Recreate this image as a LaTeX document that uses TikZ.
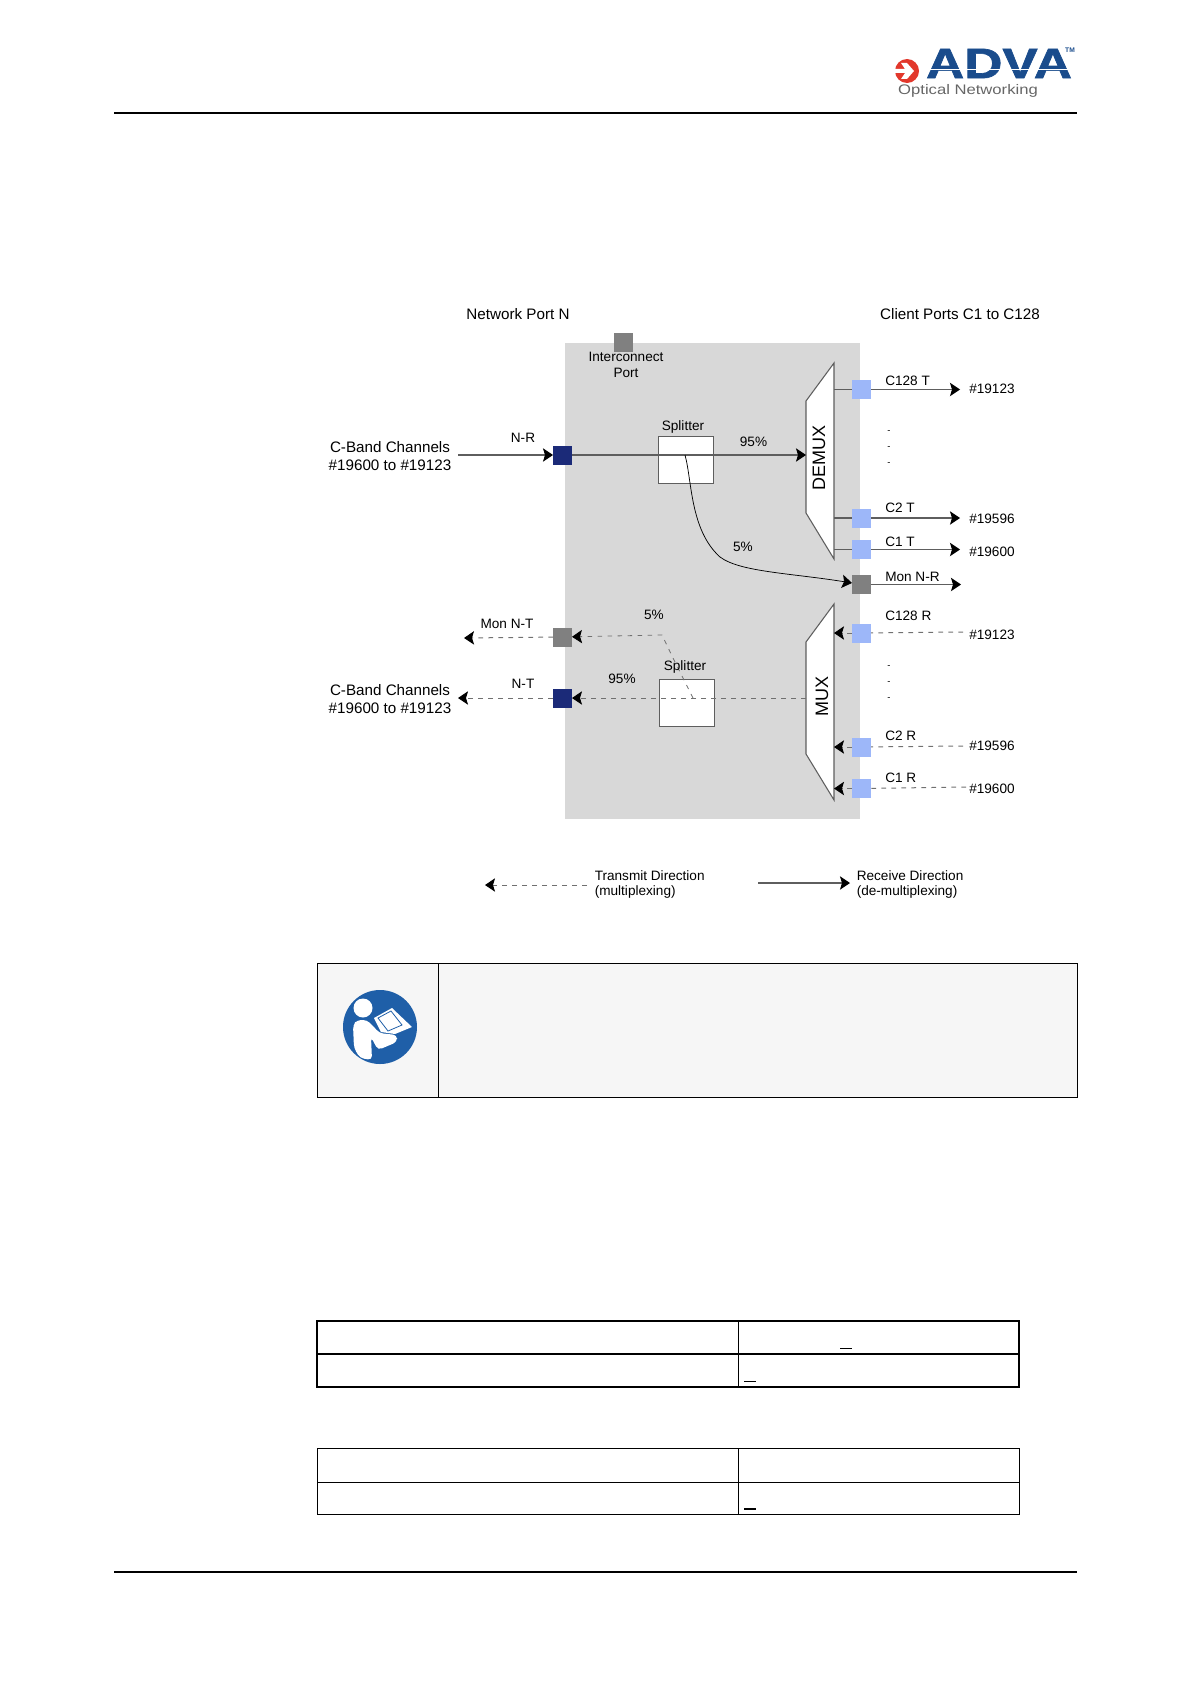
\documentclass[tikz,border=0pt]{standalone}
\usepackage{fontspec}
\setmainfont{Liberation Sans}
\newfontface\logofont{Liberation Sans Bold}[FakeBold=1.5]
\usetikzlibrary{arrows.meta}
\definecolor{panelgray}{HTML}{D8D8D8}
\definecolor{portnavy}{HTML}{1B2A78}
\definecolor{portblue}{HTML}{9DB7F9}
\definecolor{portgray}{HTML}{808080}
\definecolor{wire}{HTML}{5E5E5E}
\definecolor{wiredash}{HTML}{707070}
\definecolor{notefill}{HTML}{F6F6F6}
\definecolor{advablue}{HTML}{1A4C8C}
\definecolor{advared}{HTML}{E2382C}
\definecolor{signblue}{HTML}{1F5FA8}
\tikzset{
  port/.style={minimum size=14.25pt,inner sep=0pt,outer sep=0pt},
  netport/.style={port,fill=portnavy},
  clientport/.style={port,fill=portblue},
  monport/.style={port,fill=portgray},
  splitbox/.style={draw=wire,fill=white,line width=0.75pt,minimum width=41.25pt,minimum height=35.25pt,inner sep=0pt,outer sep=0pt},
  muxshape/.style={draw=wire,fill=white,line width=0.8pt},
  wirerx/.style={draw=wire,line width=0.85pt},
  wiretx/.style={draw=wiredash,line width=0.75pt,dash pattern={on 3.4pt off 4.1pt}},
  tipped/.style={-{Stealth[length=7.5pt,width=10pt,inset=1.5pt,color=black]}},
  bigtext/.style={inner sep=0pt,font=\fontsize{11.4}{13.5}\selectfont,align=center},
  smalltext/.style={inner sep=0pt,font=\fontsize{10.2}{11.8}\selectfont,align=center},
  lefttext/.style={inner sep=0pt,font=\fontsize{10.2}{11.8}\selectfont,align=left,anchor=west},
  rule/.style={line width=1.4pt,black},
  grid/.style={line width=0.6pt,black},
  gridthick/.style={line width=1pt,black}
}
\begin{document}
\begin{tikzpicture}[x=0.75pt,y=0.75pt,yscale=-1,xscale=1]
\useasboundingbox (0,0) rectangle (1191,1684);

%Header and footer
\draw [rule] (114,113) -- (1077,113);
\draw [rule] (114,1572) -- (1077,1572);
%Logo
\fill [advared] (907,71) circle [radius=12];
\fill [white] (895,69) -- (905,69) -- (901,63) -- (907,63) -- (914,71) -- (907,79) -- (901,79) -- (905,73) -- (895,73) -- cycle;
\draw (999,63.5) node [inner sep=0pt,text=advablue] (logoname) {\scalebox{1.24}[1]{\fontsize{32}{32}\logofont ADVA}};
\fill [white] (925,69) rectangle (1075,70.2);
\draw (1070,50) node [inner sep=0pt,text=advablue] (logotm) {\fontsize{5}{5}\selectfont\bfseries TM};
\draw (968,91) node [inner sep=0pt,text=black!60] (logosub) {\scalebox{1.2}[1]{\fontsize{10.4}{12}\selectfont Optical Networking}};

%Panel
\fill [panelgray] (565,343) rectangle (860,819);

%DEMUX
\draw [muxshape] (834,363) -- (806,401) -- (806,513) -- (834,559) -- cycle;
%MUX
\draw [muxshape] (834,604) -- (806,642) -- (806,754) -- (834,800) -- cycle;
\coordinate (demuxin) at (806,455);
\coordinate (demuxc128) at (834,389.5);
\coordinate (demuxc2) at (834,518);
\coordinate (demuxc1) at (834,549.5);
\coordinate (muxout) at (806,698);
\coordinate (muxc128) at (834,633);
\coordinate (muxc2) at (834,747);
\coordinate (muxc1) at (834,788.5);

%Splitters
\draw (685.5,459.5) node [splitbox] (splitrx) {};
\draw (686.5,702.5) node [splitbox] (splittx) {};

%Ports
\draw (623.5,342) node [monport] (interport) {};
\draw (562.5,455) node [netport] (nr) {};
\draw (562.5,698) node [netport] (nt) {};
\draw (562.5,637) node [monport] (monnt) {};
\draw (861.5,584.5) node [monport] (monnr) {};
\draw (861.5,389.5) node [clientport] (c128t) {};
\draw (861.5,518) node [clientport] (c2t) {};
\draw (861.5,549.5) node [clientport] (c1t) {};
\draw (861.5,633) node [clientport] (c128r) {};
\draw (861.5,747) node [clientport] (c2r) {};
\draw (861.5,788.5) node [clientport] (c1r) {};

%Free ends
\coordinate (nrin) at (458,455);
\coordinate (ntout) at (458,698);
\coordinate (monntout) at (464,638);
\coordinate (monnrout) at (961,584.5);
\coordinate (c128tout) at (960,389.5);
\coordinate (c2tout) at (960,518);
\coordinate (c1tout) at (960,549.5);
\coordinate (c128rin) at (963,632);
\coordinate (c2rin) at (963,746);
\coordinate (c1rin) at (966,787);
\coordinate (legtxa) at (587,885);
\coordinate (legtxb) at (485,885);
\coordinate (legrxa) at (758,883);
\coordinate (legrxb) at (850,883);
\coordinate (taprx) at (685,455);
\coordinate (taptx) at (693,698);

%Receive direction
\draw [wirerx,tipped] (nrin) -- (nr);
\draw [wirerx,tipped] (nr) -- (demuxin);
\draw [wirerx] (demuxc128) -- (c128t);
\draw [wirerx,tipped] (c128t) -- (c128tout);
\draw [wirerx] (demuxc2) -- (c2t);
\draw [wirerx,tipped] (c2t) -- (c2tout);
\draw [wirerx] (demuxc1) -- (c1t);
\draw [wirerx,tipped] (c1t) -- (c1tout);
\draw [wirerx,tipped] (monnr) -- (monnrout);
\draw [draw=black,line width=0.55pt,tipped] (taprx) .. controls (692,480) and (690,530) .. (720,557) .. controls (740,572) and (790,573) .. (monnr);

%Transmit direction
\draw [wiretx,tipped] (muxout) -- (nt);
\draw [wiretx,tipped] (nt) -- (ntout);
\draw [wiretx,tipped] (monnt) -- (monntout);
\draw [wiretx,line width=0.6pt,tipped] (taptx) -- (673,658) -- (662,635) -- (monnt);
\draw [wiretx] (c128rin) -- (c128r);
\draw [wiretx,tipped] (c128r) -- (muxc128);
\draw [wiretx] (c2rin) -- (c2r);
\draw [wiretx,tipped] (c2r) -- (muxc2);
\draw [wiretx] (c1rin) -- (c1r);
\draw [wiretx,tipped] (c1r) -- (muxc1);

%Legend
\draw [wiretx,line width=0.7pt,tipped] (legtxa) -- (legtxb);
\draw [wirerx,tipped] (legrxa) -- (legrxb);

% Text Node
\draw (518,314) node [bigtext] (titlenet) {Network Port N};
% Text Node
\draw (960,314) node [bigtext] (titleclient) {Client Ports C1 to C128};
% Text Node
\draw (626,365) node [smalltext] (interlabel) {Interconnect\\Port};
% Text Node
\draw (390,456) node [bigtext] (bandin) {C-Band Channels\\\#19600 to \#19123};
% Text Node
\draw (390,699) node [bigtext] (bandout) {C-Band Channels\\\#19600 to \#19123};
% Text Node
\draw (523,438) node [smalltext] (nrlabel) {N-R};
% Text Node
\draw (523,683.5) node [smalltext] (ntlabel) {N-T};
% Text Node
\draw (507,624) node [smalltext] (monntlabel) {Mon N-T};
% Text Node
\draw (683,427) node [smalltext] (splitrxlabel) {Splitter};
% Text Node
\draw (685,666.5) node [smalltext] (splittxlabel) {Splitter};
% Text Node
\draw (753.5,442) node [smalltext] (rxmain) {95\%};
% Text Node
\draw (743,547) node [smalltext] (rxtap) {5\%};
% Text Node
\draw (622,679) node [smalltext] (txmain) {95\%};
% Text Node
\draw (654,615) node [smalltext] (txtap) {5\%};
% Text Node
\draw (819,458) node [inner sep=0pt,rotate=90,font=\fontsize{13.5}{14}\selectfont] (demuxlabel) {DEMUX};
% Text Node
\draw (822,696) node [inner sep=0pt,rotate=90,font=\fontsize{13.5}{14}\selectfont] (muxlabel) {MUX};
% Text Node
\draw (885,381) node [lefttext] (c128tlabel) {C128 T};
% Text Node
\draw (885,508) node [lefttext] (c2tlabel) {C2 T};
% Text Node
\draw (885,541.5) node [lefttext] (c1tlabel) {C1 T};
% Text Node
\draw (885,577) node [lefttext] (monnrlabel) {Mon N-R};
% Text Node
\draw (885,616) node [lefttext] (c128rlabel) {C128 R};
% Text Node
\draw (885,736) node [lefttext] (c2rlabel) {C2 R};
% Text Node
\draw (885,778) node [lefttext] (c1rlabel) {C1 R};
% Text Node
\draw (969,389) node [lefttext] (c128tch) {\#19123};
% Text Node
\draw (969,519) node [lefttext] (c2tch) {\#19596};
% Text Node
\draw (969,552) node [lefttext] (c1tch) {\#19600};
% Text Node
\draw (969,635) node [lefttext] (c128rch) {\#19123};
% Text Node
\draw (969,746) node [lefttext] (c2rch) {\#19596};
% Text Node
\draw (969,789) node [lefttext] (c1rch) {\#19600};
% Text Node
\foreach \i/\y in {1/432,2/448,3/464,4/667,5/683,6/699}
  \draw (889,\y) node [inner sep=0pt,font=\fontsize{7}{8}\selectfont] (gapdot\i) {-};
% Text Node
\draw (594.5,884.5) node [lefttext] (legtx) {Transmit Direction\\(multiplexing)};
% Text Node
\draw (856.5,884.5) node [lefttext] (legrx) {Receive Direction\\(de-multiplexing)};

%Note box
\draw [grid,fill=notefill] (317,963) rectangle (1077,1097);
\draw [grid] (438,963) -- (438,1097);
%Note sign
\fill [signblue] (380,1027) circle [radius=37];
\fill [white] (363,1008) circle [radius=9.5];
\fill [white,rounded corners=3pt] (353,1025) -- (357,1020) -- (367,1020) -- (375,1028) -- (379,1033) -- (397,1035) -- (397,1042) -- (378,1050) -- (371,1037) -- (372,1060) -- (360,1058) -- (354,1048) -- cycle;
\fill [white] (374,1018) -- (392,1008) -- (412,1027) -- (395,1034) -- (381,1032) -- cycle;
\draw [signblue,line width=0.6pt] (378,1018) -- (391,1011) -- (402,1025) -- (388,1031) -- cycle;

%Table one
\draw [gridthick] (317,1321) rectangle (1019,1387);
\draw [gridthick] (317,1354) -- (1019,1354);
\draw [grid] (738,1321) -- (738,1387);
\draw [grid] (840,1348) -- (852,1348);
\draw [grid] (744,1381) -- (756,1381);
%Table two
\draw [grid] (317,1448) rectangle (1019,1514);
\draw [grid] (317,1482) -- (1019,1482);
\draw [grid] (738,1448) -- (738,1514);
\draw [gridthick] (744,1509) -- (756,1509);

\end{tikzpicture}
\end{document}
